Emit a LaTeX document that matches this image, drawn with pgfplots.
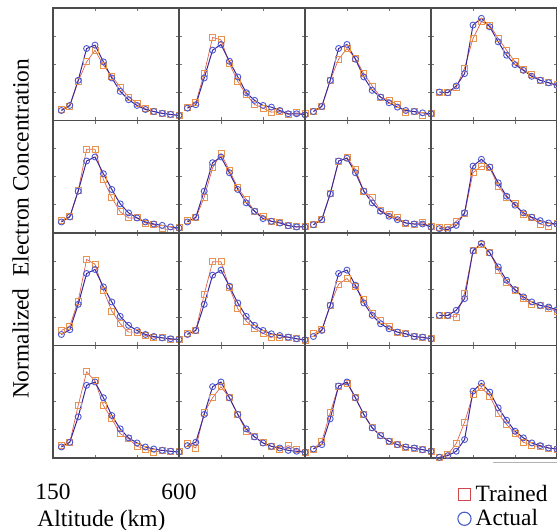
\documentclass[border=0pt]{standalone}
\usepackage{fontspec}
\setmainfont{Liberation Serif}
\usepackage{pgfplots}
\usepackage{pgfplotstable}
\pgfplotsset{compat=1.18}

\definecolor{trMark}{RGB}{232,148,78}
\definecolor{trLine}{RGB}{222,100,78}
\definecolor{acMark}{RGB}{78,88,210}
\definecolor{acLine}{RGB}{62,40,150}
\definecolor{legRed}{RGB}{208,72,78}
\definecolor{legBlue}{RGB}{70,95,200}

\newcommand{\labfont}{\fontsize{11.7}{14}\selectfont}

% one table per row of panels: a = actual, t = trained
\pgfplotstableread{
alt a1 t1 a2 t2 a3 t3 a4 t4
180 .089 .095 .110 .119 .080 .080 .253 .253
210 .134 .128 .140 .158 .125 .125 .247 .247
240 .357 .348 .378 .417 .357 .357 .307 .292
270 .640 .521 .625 .738 .640 .545 .417 .467
300 .670 .625 .676 .717 .676 .640 .848 .729
330 .521 .491 .527 .506 .545 .551 .908 .878
360 .378 .393 .387 .348 .387 .417 .833 .848
390 .259 .298 .247 .229 .268 .307 .699 .729
420 .185 .208 .179 .143 .208 .208 .580 .625
450 .134 .155 .134 .110 .158 .179 .497 .521
480 .098 .104 .119 .074 .119 .140 .446 .452
510 .080 .080 .089 .080 .089 .074 .393 .408
540 .063 .065 .060 .054 .080 .080 .357 .357
570 .054 .054 .060 .068 .068 .045 .336 .336
600 .045 .045 .051 .060 .060 .060 .312 .318
}\rowA
\pgfplotstableread{
alt a1 t1 a2 t2 a3 t3 a4 t4
180 .098 .110 .098 .110 .074 .074 .039 .051
210 .143 .148 .140 .134 .119 .119 .030 .045
240 .372 .378 .372 .318 .348 .348 .068 .104
270 .640 .744 .625 .580 .640 .640 .179 .170
300 .676 .744 .676 .705 .664 .670 .595 .536
330 .527 .476 .536 .557 .536 .565 .655 .595
360 .387 .313 .387 .402 .372 .372 .586 .580
390 .259 .188 .268 .298 .268 .313 .446 .417
420 .179 .134 .193 .193 .193 .199 .327 .318
450 .134 .134 .128 .149 .149 .164 .247 .259
480 .098 .089 .104 .104 .119 .134 .179 .164
510 .080 .074 .089 .098 .089 .089 .140 .134
540 .068 .039 .065 .068 .080 .080 .110 .080
570 .054 .030 .054 .054 .080 .095 .089 .060
600 .045 .045 .054 .060 .054 .054 .080 .089
}\rowB
\pgfplotstableread{
alt a1 t1 a2 t2 a3 t3 a4 t4
180 .098 .134 .098 .104 .080 .104 .268 .268
210 .140 .173 .134 .134 .134 .140 .268 .268
240 .366 .396 .366 .455 .357 .357 .313 .253
270 .640 .765 .625 .744 .640 .545 .417 .467
300 .676 .723 .670 .744 .670 .595 .842 .842
330 .521 .491 .527 .515 .536 .521 .908 .902
360 .387 .307 .378 .327 .378 .408 .824 .824
390 .259 .193 .259 .217 .268 .289 .699 .670
420 .179 .119 .179 .149 .193 .223 .580 .557
450 .134 .119 .134 .110 .149 .170 .497 .491
480 .098 .089 .104 .068 .119 .119 .432 .417
510 .080 .074 .089 .068 .104 .104 .387 .366
540 .068 .068 .074 .074 .080 .080 .357 .357
570 .060 .054 .060 .060 .074 .068 .342 .327
600 .054 .054 .051 .045 .060 .060 .318 .307
}\rowC
\pgfplotstableread{
alt a1 t1 a2 t2 a3 t3 a4 t4
180 .098 .110 .110 .128 .080 .080 .006 .006
210 .140 .140 .140 .089 .119 .149 .021 .030
240 .366 .467 .387 .402 .348 .402 .060 .128
270 .646 .765 .634 .536 .640 .640 .164 .318
300 .676 .685 .676 .634 .676 .664 .595 .565
330 .536 .467 .536 .536 .536 .536 .664 .625
360 .378 .348 .387 .387 .387 .387 .586 .551
390 .259 .217 .259 .238 .268 .268 .446 .396
420 .179 .170 .188 .188 .199 .199 .336 .298
450 .134 .104 .134 .134 .149 .149 .238 .217
480 .098 .080 .104 .104 .119 .119 .179 .140
510 .080 .051 .089 .080 .098 .098 .134 .110
540 .068 .068 .068 .110 .089 .089 .110 .104
570 .060 .060 .060 .074 .074 .074 .089 .089
600 .054 .054 .051 .051 .060 .060 .080 .080
}\rowD

\pgfplotsset{
  panel/.style={
    scale only axis, width=63pt, height=56.25pt, anchor=north west,
    xmin=150, xmax=600, ymin=0, ymax=1,
    xtick={300,450}, ytick={0.25,0.5,0.75},
    xticklabels={}, yticklabels={},
    tick align=inside, major tick length=1.6pt,
    tick style={black!55, line width=0.4pt},
    axis line style={black!70, line width=0.6pt},
    font=\labfont,
  },
  trained/.style={color=trLine, line width=0.35pt,
    mark=square, mark size=1.5pt, mark options={draw=trMark, line width=0.45pt, solid},
    legend image code/.code={\draw[legRed, line width=0.55pt] (0pt,-3pt) rectangle (6pt,3pt);}},
  actual/.style={color=acLine, line width=0.5pt,
    mark=o, mark size=1.5pt, mark options={draw=acMark, line width=0.45pt},
    legend image code/.code={\draw[legBlue, line width=0.55pt] (3pt,0pt) circle (3.3pt);}},
}

% #1 column, #2 row, #3 table, #4 panel number in row, #5 extra options
\newcommand{\panel}[5]{%
  \begin{axis}[panel, at={({26.5pt+63pt*#1},{-4pt-56.25pt*#2})}, #5]
    \addplot[trained] table[x=alt, y=t#4]{#3};
    \addplot[actual] table[x=alt, y=a#4]{#3};
  \end{axis}}

\begin{document}
\begin{tikzpicture}
\path[use as bounding box] (0pt,0pt) rectangle (278.5pt,-265pt);

\panel{0}{0}{\rowA}{1}{}
\panel{1}{0}{\rowA}{2}{}
\panel{2}{0}{\rowA}{3}{}
\panel{3}{0}{\rowA}{4}{}
\panel{0}{1}{\rowB}{1}{}
\panel{1}{1}{\rowB}{2}{}
\panel{2}{1}{\rowB}{3}{}
\panel{3}{1}{\rowB}{4}{}
\panel{0}{2}{\rowC}{1}{}
\panel{1}{2}{\rowC}{2}{}
\panel{2}{2}{\rowC}{3}{}
\panel{3}{2}{\rowC}{4}{}
\panel{0}{3}{\rowD}{1}{extra x ticks={150,600}, extra x tick labels={150,600},
  extra x tick style={major tick length=0pt, tick label style={anchor=base, inner sep=0pt, yshift=-20.5pt}},
  xlabel={Altitude (km)},
  xlabel style={at={(rel axis cs:-0.127,0)}, anchor=base west, inner sep=0pt, yshift=-34pt}}
\panel{1}{3}{\rowD}{2}{}
\panel{2}{3}{\rowD}{3}{}
\panel{3}{3}{\rowD}{4}{legend entries={Trained,Actual}, legend cell align=left,
  legend style={at={(0.96,-0.2)}, anchor=north east, draw=none, fill=none,
    font=\labfont, row sep=-1.5pt, inner sep=0pt}}

\node[rotate=90, anchor=base, font=\labfont, inner sep=0pt] at (14.3pt,-114.5pt)
  {Normalized\ \ Electron Concentration};
\draw[black!30, line width=0.5pt] (246.5pt,-231pt) -- (278.5pt,-231pt);
\end{tikzpicture}
\end{document}
